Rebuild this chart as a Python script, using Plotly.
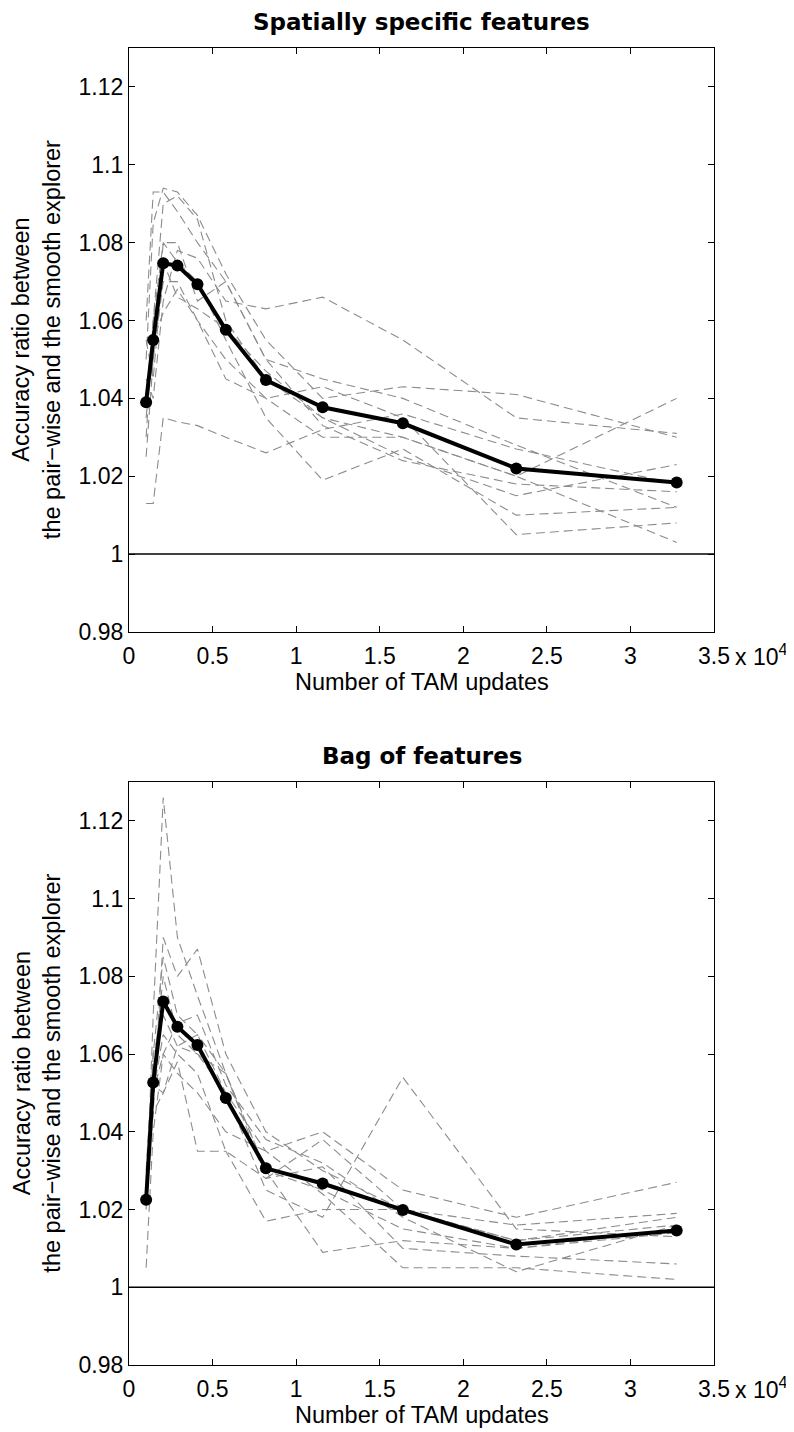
import plotly.graph_objects as go
from plotly.subplots import make_subplots

# ---------------- data ----------------
x_updates = [1024, 1448, 2048, 2896, 4096, 5793, 8192, 11585, 16384, 23170, 32768]

x_tick_vals = [0, 5000, 10000, 15000, 20000, 25000, 30000, 35000]
x_tick_text = ["0", "0.5", "1", "1.5", "2", "2.5", "3", "3.5"]
y_tick_vals = [0.98, 1.0, 1.02, 1.04, 1.06, 1.08, 1.10, 1.12]
y_tick_text = ["0.98", "1", "1.02", "1.04", "1.06", "1.08", "1.1", "1.12"]

spatial_mean = [1.039, 1.055, 1.0747, 1.0741, 1.0693, 1.0576, 1.0447, 1.0377, 1.0336, 1.0220, 1.0184]
spatial_runs = [
    [1.013, 1.013, 1.035, 1.034, 1.033, 1.030, 1.026, 1.032, 1.036, 1.027, 1.018],
    [1.060, 1.093, 1.093, 1.088, 1.080, 1.070, 1.050, 1.045, 1.040, 1.028, 1.012],
    [1.050, 1.085, 1.094, 1.093, 1.087, 1.072, 1.055, 1.040, 1.043, 1.041, 1.030],
    [1.030, 1.060, 1.090, 1.092, 1.086, 1.060, 1.045, 1.035, 1.025, 1.015, 1.023],
    [1.045, 1.040, 1.065, 1.078, 1.076, 1.065, 1.063, 1.066, 1.055, 1.035, 1.031],
    [1.025, 1.050, 1.070, 1.070, 1.060, 1.045, 1.040, 1.030, 1.030, 1.020, 1.040],
    [1.040, 1.060, 1.080, 1.075, 1.070, 1.055, 1.035, 1.019, 1.027, 1.010, 1.012],
    [1.035, 1.055, 1.062, 1.068, 1.060, 1.050, 1.040, 1.043, 1.035, 1.005, 1.008],
    [1.055, 1.045, 1.075, 1.066, 1.063, 1.058, 1.047, 1.035, 1.030, 1.020, 1.003],
    [1.038, 1.050, 1.080, 1.080, 1.065, 1.070, 1.050, 1.033, 1.024, 1.018, 1.016],
]

bag_mean = [1.0225, 1.0527, 1.0735, 1.0670, 1.0623, 1.0487, 1.0306, 1.0267, 1.0199, 1.0110, 1.0146]
bag_runs = [
    [1.020, 1.070, 1.126, 1.090, 1.075, 1.055, 1.030, 1.025, 1.015, 1.010, 1.014],
    [1.025, 1.045, 1.090, 1.080, 1.087, 1.060, 1.040, 1.030, 1.020, 1.012, 1.018],
    [1.005, 1.040, 1.060, 1.055, 1.050, 1.040, 1.035, 1.040, 1.025, 1.018, 1.027],
    [1.022, 1.060, 1.085, 1.070, 1.065, 1.050, 1.025, 1.018, 1.054, 1.015, 1.013],
    [1.025, 1.050, 1.065, 1.060, 1.055, 1.035, 1.028, 1.031, 1.010, 1.008, 1.006],
    [1.024, 1.055, 1.080, 1.065, 1.060, 1.050, 1.035, 1.024, 1.005, 1.005, 1.002],
    [1.025, 1.045, 1.050, 1.058, 1.035, 1.035, 1.017, 1.020, 1.020, 1.016, 1.019],
    [1.030, 1.060, 1.070, 1.062, 1.060, 1.055, 1.030, 1.009, 1.012, 1.010, 1.015],
    [1.024, 1.050, 1.060, 1.068, 1.070, 1.052, 1.038, 1.032, 1.018, 1.004, 1.016],
    [1.025, 1.052, 1.050, 1.062, 1.065, 1.055, 1.028, 1.038, 1.020, 1.012, 1.016],
]

panel_titles = ["Spatially specific features", "Bag of features"]
x_title = "Number of TAM updates"
y_title = "Accuracy ratio between<br>the pair\u2212wise and the smooth explorer"

# ---------------- figure ----------------
# page body has an 8px default margin, so the figure is sized 8px smaller
W, H = 786, 1424
ML, MR, MT, MB = 121, 80, 40, 67
top_dom = [0.5566, 1.0]
bot_dom = [0.0, 0.4427]

fig = make_subplots(rows=2, cols=1)

sans = "Liberation Sans, Arial, sans-serif"
tick_font = dict(family=sans, size=23, color="black")

for row, (runs, mean) in enumerate([(spatial_runs, spatial_mean), (bag_runs, bag_mean)], start=1):
    for r in runs:
        fig.add_trace(go.Scatter(x=x_updates, y=r, mode="lines",
                                 line=dict(color="#8c8c8c", width=1.1, dash="9px,5px"),
                                 showlegend=False, hoverinfo="skip"), row=row, col=1)
    fig.add_trace(go.Scatter(x=x_updates, y=mean, mode="lines+markers",
                             line=dict(color="black", width=4),
                             marker=dict(color="black", size=12),
                             showlegend=False), row=row, col=1)
    fig.add_hline(y=1, line=dict(color="black", width=1.5), row=row, col=1)

axis_common = dict(showline=True, linecolor="black", linewidth=1.2, mirror="ticks",
                   ticks="inside", ticklen=6, tickcolor="black", tickwidth=1,
                   showgrid=False, zeroline=False, tickfont=tick_font)

for i, dom in [(1, top_dom), (2, bot_dom)]:
    fig.update_xaxes(range=[0, 35000], tickvals=x_tick_vals, ticktext=x_tick_text,
                     ticklabelstandoff=3, row=i, col=1, **axis_common)
    fig.update_yaxes(range=[0.98, 1.13], tickvals=y_tick_vals, ticktext=y_tick_text,
                     domain=dom, row=i, col=1, **axis_common)

annotations = []
for dom, title, xr in [(top_dom, panel_titles[0], "x"), (bot_dom, panel_titles[1], "x2")]:
    annotations.append(dict(text="<b>" + title + "</b>", xref="paper", yref="paper",
                            x=0.5, y=dom[1], xanchor="center", yanchor="middle", yshift=26,
                            showarrow=False,
                            font=dict(family="DejaVu Sans, sans-serif", size=23, color="black")))
    annotations.append(dict(text=x_title, xref="paper", yref="paper",
                            x=0.5, y=dom[0], xanchor="center", yanchor="middle", yshift=-50,
                            showarrow=False,
                            font=dict(family=sans, size=23.5, color="black")))
    annotations.append(dict(text=y_title, xref="paper", yref="paper",
                            x=-0.157, y=(dom[0] + dom[1]) / 2, xanchor="center", yanchor="middle",
                            textangle=-90, showarrow=False,
                            font=dict(family=sans, size=23.5, color="black")))
    annotations.append(dict(text="x 10<sup>4</sup>", xref=xr, yref="paper",
                            x=35000, y=dom[0], xanchor="left", yanchor="middle",
                            xshift=19, yshift=-23, showarrow=False,
                            font=dict(family=sans, size=23, color="black")))

fig.update_layout(width=W, height=H, margin=dict(l=ML, r=MR, t=MT, b=MB),
                  plot_bgcolor="white", paper_bgcolor="white",
                  annotations=annotations, showlegend=False)

fig.write_html("out.html")
